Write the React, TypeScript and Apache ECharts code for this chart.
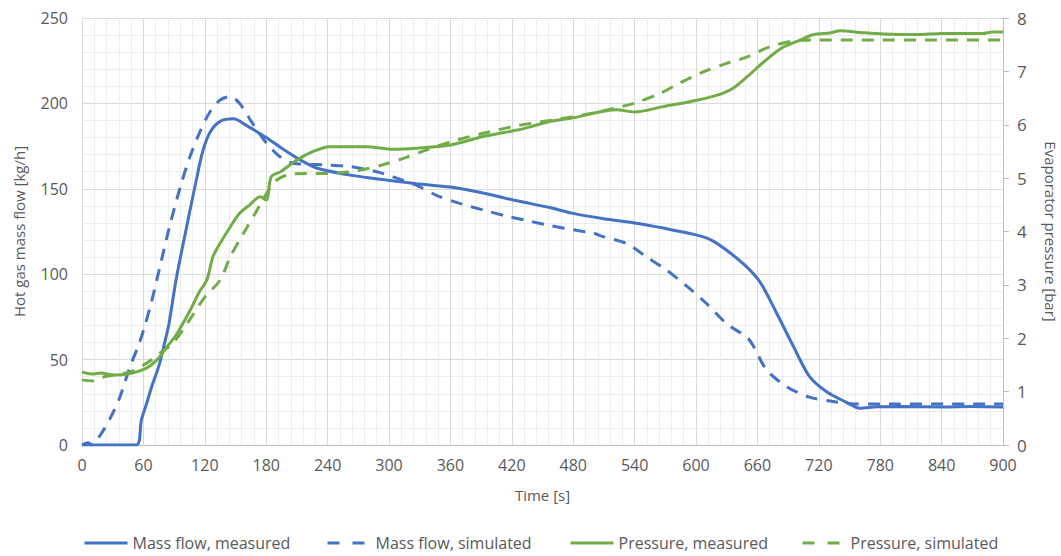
import React, { useEffect, useRef } from "react";
import * as echarts from "echarts";

// Time stamps [s] and values
const massFlowMeasuredT = [0, 53, 58, 63, 68, 75, 80, 85, 92, 102, 112, 118, 125, 135, 148, 161, 180, 197, 213, 230, 262, 299, 327, 360, 392, 425, 457, 480, 510, 540, 568, 600, 615, 630, 650, 663, 679, 695, 711, 728, 747, 760, 777, 800, 840, 870, 900];
const massFlowMeasuredV = [0, 0, 14.6, 24, 34, 46, 58, 71, 97, 127, 156, 172, 183, 189.5, 191, 187, 180, 173, 167, 162, 158, 155, 153, 151, 147.5, 143, 139, 135.6, 132.5, 130, 127, 123, 120, 114, 104, 95, 77, 58, 40, 31, 25, 21.5, 22.4, 22.5, 22.3, 22.5, 22.2];

const massFlowSimulatedT = [0, 6, 10, 17, 27, 37, 47, 55, 60, 68, 76, 86, 96, 105, 115, 125, 135, 145, 154, 167, 180, 193, 206, 239, 262, 288, 304, 327, 347, 369, 392, 415, 438, 457, 480, 500, 509, 532, 552, 571, 591, 610, 630, 650, 656, 669, 689, 711, 734, 754, 780, 900];
const massFlowSimulatedV = [0, 1.3, 0, 5, 15, 28, 46, 58, 67, 84, 104, 129, 151, 168, 183, 195, 202, 204, 200, 188, 177, 169, 165, 164, 163, 160, 157, 152, 146, 141.5, 137.6, 134, 131, 128.5, 126, 124, 122, 118, 110, 102.5, 93, 83, 71, 63, 58, 44, 34, 28, 25.5, 24, 24, 24];

const pressureMeasuredT = [0, 10, 18, 31, 47, 63, 73, 83, 92, 105, 115, 122, 128, 135, 145, 154, 164, 174, 180, 185, 194, 210, 226, 242, 278, 304, 327, 360, 392, 425, 438, 457, 480, 522, 540, 568, 601, 620, 635, 650, 667, 684, 700, 715, 731, 741, 760, 783, 816, 840, 880, 890, 900];
const pressureMeasuredV = [1.37, 1.33, 1.35, 1.31, 1.34, 1.44, 1.59, 1.84, 2.06, 2.5, 2.88, 3.09, 3.53, 3.78, 4.09, 4.34, 4.5, 4.65, 4.59, 5.03, 5.12, 5.34, 5.5, 5.59, 5.59, 5.54, 5.56, 5.62, 5.78, 5.9, 5.96, 6.06, 6.13, 6.28, 6.24, 6.34, 6.46, 6.55, 6.67, 6.9, 7.19, 7.44, 7.57, 7.69, 7.72, 7.76, 7.73, 7.7, 7.69, 7.71, 7.71, 7.74, 7.74];

const pressureSimulatedT = [0, 10, 22, 47, 63, 76, 89, 105, 120, 135, 145, 158, 171, 180, 190, 206, 242, 272, 294, 314, 337, 360, 392, 425, 457, 500, 539, 565, 584, 607, 630, 650, 672, 700, 720, 900];
const pressureSimulatedV = [1.22, 1.2, 1.28, 1.37, 1.53, 1.72, 1.91, 2.34, 2.77, 3.09, 3.53, 3.97, 4.4, 4.7, 4.96, 5.08, 5.09, 5.15, 5.25, 5.37, 5.53, 5.68, 5.84, 5.98, 6.08, 6.22, 6.4, 6.59, 6.78, 6.99, 7.15, 7.27, 7.46, 7.58, 7.59, 7.59];

const seriesNames = ["Mass flow, measured", "Mass flow, simulated", "Pressure, measured", "Pressure, simulated"];
const legendDashed = [false, true, false, true];

const pair = (t: number[], v: number[]) => t.map((x, i) => [x, v[i]]);

const BLUE = "#4472C4";
const GREEN = "#70AD47";
const LABEL = "#595959";
const FONT = "'Open Sans', sans-serif";
const LEGEND_LEFT = [78, 321, 564, 796];

export default function App() {
  const ref = useRef<HTMLDivElement>(null);
  useEffect(() => {
    if (!ref.current) return;
    const chart = echarts.init(ref.current, undefined, { renderer: "svg" });
    const line = (name: string, data: number[][], color: string, dashed: boolean, yAxisIndex: number) => ({
      name,
      type: "line",
      data,
      yAxisIndex,
      symbol: "none",
      smooth: 0.3,
      lineStyle: { color, width: 3, type: dashed ? [12, 9] : "solid" },
      itemStyle: { color },
    });
    const legends = seriesNames.map((name, i) => ({
      bottom: 0,
      left: LEGEND_LEFT[i],
      itemWidth: 43,
      itemHeight: 10,
      itemStyle: { opacity: 0, borderWidth: 0 },
      textStyle: { fontFamily: FONT, fontSize: 16, color: LABEL },
      data: [{ name, lineStyle: { width: 3, type: legendDashed[i] ? [12, 13] : "solid" } }],
    }));
    chart.setOption({
      animation: false,
      backgroundColor: "#ffffff",
      textStyle: { fontFamily: FONT },
      grid: { left: 82, right: 58, top: 18, bottom: 111, containLabel: false, outerBoundsMode: "none" },
      legend: legends,
      xAxis: {
        type: "value",
        min: 0,
        max: 900,
        interval: 60,
        name: "Time [s]",
        nameLocation: "middle",
        nameGap: 42,
        nameTextStyle: { color: LABEL, fontSize: 15, fontFamily: FONT },
        axisLine: { show: true, lineStyle: { color: "#bfbfbf", width: 1 } },
        axisTick: { show: false },
        axisLabel: { color: LABEL, fontSize: 16, margin: 12, fontFamily: FONT },
        splitLine: { show: true, lineStyle: { color: "#d9d9d9", width: 1 } },
        minorTick: { show: false, splitNumber: 5 },
        minorSplitLine: { show: true, lineStyle: { color: "#ececec", width: 1 } },
      },
      yAxis: [
        {
          type: "value",
          min: 0,
          max: 250,
          interval: 50,
          name: "Hot gas mass flow [kg/h]",
          nameLocation: "middle",
          nameGap: 56,
          nameTextStyle: { color: LABEL, fontSize: 15, fontFamily: FONT },
          axisLine: { show: false },
          axisTick: { show: false },
          axisLabel: { color: LABEL, fontSize: 16, margin: 14, fontFamily: FONT },
          splitLine: { show: true, lineStyle: { color: "#d9d9d9", width: 1 } },
          minorTick: { show: false, splitNumber: 5 },
          minorSplitLine: { show: true, lineStyle: { color: "#ececec", width: 1 } },
        },
        {
          type: "value",
          min: 0,
          max: 8,
          interval: 1,
          position: "right",
          name: "Evaporator pressure [bar]",
          nameLocation: "middle",
          nameGap: 40,
          nameRotate: -90,
          nameTextStyle: { color: LABEL, fontSize: 15, fontFamily: FONT },
          axisLine: { show: true, lineStyle: { color: "#bfbfbf", width: 1 } },
          axisTick: { show: true, length: 6, lineStyle: { color: "#bfbfbf" } },
          axisLabel: { color: LABEL, fontSize: 17, margin: 14, fontFamily: FONT },
          splitLine: { show: false },
        },
      ],
      series: [
        line(seriesNames[0], pair(massFlowMeasuredT, massFlowMeasuredV), BLUE, false, 0),
        line(seriesNames[1], pair(massFlowSimulatedT, massFlowSimulatedV), BLUE, true, 0),
        line(seriesNames[2], pair(pressureMeasuredT, pressureMeasuredV), GREEN, false, 1),
        line(seriesNames[3], pair(pressureSimulatedT, pressureSimulatedV), GREEN, true, 1),
      ],
    });
    return () => chart.dispose();
  }, []);
  return <div ref={ref} style={{ position: "fixed", left: 0, top: 0, width: 1061, height: 556 }} />;
}
